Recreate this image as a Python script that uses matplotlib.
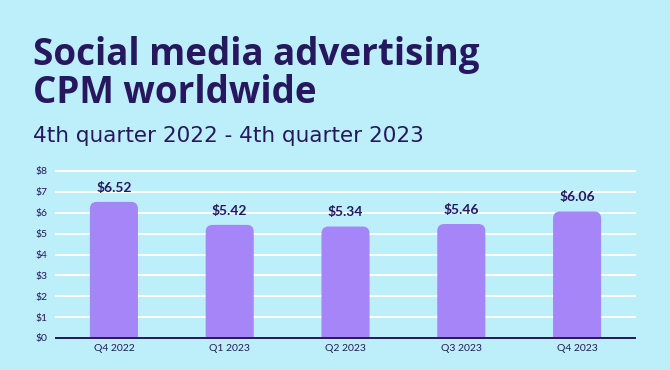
import matplotlib
matplotlib.use("Agg")
import matplotlib.pyplot as plt
from matplotlib.patches import PathPatch
from matplotlib.path import Path

categories = ["Q4 2022", "Q1 2023", "Q2 2023", "Q3 2023", "Q4 2023"]
values = [6.52, 5.42, 5.34, 5.46, 6.06]
yticks = [0, 1, 2, 3, 4, 5, 6, 7, 8]
ytick_labels = ["$0", "$1", "$2", "$3", "$4", "$5", "$6", "$7", "$8"]

BG = "#BDEFFB"
BAR = "#A585F7"
TXT = "#27175E"
FONT = "Lato"
TFONT = "Open Sans"

W, H = 670, 370
fig = plt.figure(figsize=(W / 100, H / 100), dpi=100, facecolor=BG)
ax = fig.add_axes([56 / W, 1 - 338 / H, (635 - 56) / W, (338 - 171) / H])
ax.set_facecolor(BG)
ax.set_xlim(-0.5, len(categories) - 0.5)
ax.set_ylim(0, 8)

for y in yticks[1:]:
    ax.axhline(y, color="white", lw=1.4, zorder=1, clip_on=False)
ax.axhline(0, color=TXT, lw=1.4, zorder=4, clip_on=False)

bw = 0.415
bars = ax.bar(range(len(values)), values, width=bw, color=BAR, zorder=2)
px_x = ax.get_position().width * W / len(categories)
px_y = ax.get_position().height * H / 8
rx = 7 / px_x
ry = 7 / px_y
for b in bars:
    x0, w, h = b.get_x(), b.get_width(), b.get_height()
    x1 = x0 + w
    b.set_visible(False)
    verts = [(x0, 0), (x0, h - ry), (x0, h), (x0 + rx, h), (x1 - rx, h), (x1, h),
             (x1, h - ry), (x1, 0), (x0, 0)]
    codes = [Path.MOVETO, Path.LINETO, Path.CURVE3, Path.CURVE3, Path.LINETO,
             Path.CURVE3, Path.CURVE3, Path.LINETO, Path.CLOSEPOLY]
    ax.add_patch(PathPatch(Path(verts, codes), fc=BAR, ec="none", zorder=2))
    ax.annotate(f"${h:.2f}", (x0 + w / 2, h), xytext=(0, 6), textcoords="offset points",
                ha="center", va="bottom", fontsize=10, fontweight="bold",
                color=TXT, family=FONT)

ax.set_xticks(range(len(categories)))
ax.set_xticklabels(categories, fontsize=7.5, color=TXT, family=FONT)
ax.set_yticks(yticks)
ax.set_yticklabels(ytick_labels, fontsize=7.5, color=TXT, family=FONT)
ax.tick_params(length=0, pad=4)
ax.tick_params(axis="y", pad=6)
for s in ax.spines.values():
    s.set_visible(False)

fig.text(33 / W, 1 - 65 / H, "Social media advertising", fontsize=26.5, fontweight="bold",
         color=TXT, family=TFONT, va="baseline")
fig.text(33 / W, 1 - 103 / H, "CPM worldwide", fontsize=26.5, fontweight="bold",
         color=TXT, family=TFONT, va="baseline")
fig.text(33 / W, 1 - 142 / H, "4th quarter 2022 - 4th quarter 2023", fontsize=15.5,
         color=TXT, family="DejaVu Sans", va="baseline")

fig.savefig("out.png", dpi=100, facecolor=BG)
